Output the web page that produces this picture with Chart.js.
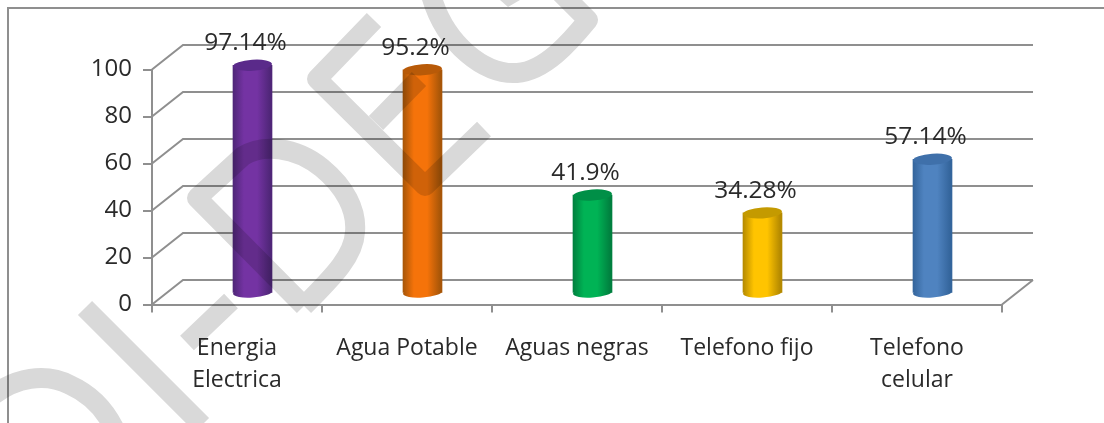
<!DOCTYPE html>
<html><head><meta charset="utf-8">
<style>html,body{margin:0;padding:0;background:#fff;overflow:hidden}#w{position:absolute;left:0;top:0;width:1104px;height:423px}</style>
<script src="https://cdn.jsdelivr.net/npm/chart.js@4"></script>
</head><body><div id="w"><canvas id="c"></canvas></div>
<script>
const categories = [["Energia","Electrica"],"Agua Potable","Aguas negras","Telefono fijo",["Telefono","celular"]];
const values = [97.14,95.2,41.9,34.28,57.14];
const yTicks = [0,20,40,60,80,100];
const edgeColors = ["#4f2678","#a85608","#00803f","#b58a00","#34659c"];
const midColors = ["#7433a3","#f5730a","#00b355","#ffc400","#4f83c0"];
const capColors = ["#5a2a8a","#b85a08","#008f47","#c49a00","#3f70aa"];
const LINE = "#8f8f8f", TEXT = "#2a2a2a", FONT = '"Open Sans", sans-serif';
const DX = 15.5, DY = -11, WX = 31, WY = -24.5;

function bodyFill(c){
  const i = c.dataIndex; if(i===undefined) return midColors[0];
  const s = c.chart.scales.x; if(!s) return midColors[i];
  const x = s.getPixelForValue(i);
  if(!isFinite(x)) return midColors[i];
  const g = c.chart.ctx.createLinearGradient(x-19.5,0,x+19.5,0);
  g.addColorStop(0,edgeColors[i]); g.addColorStop(.28,midColors[i]);
  g.addColorStop(.62,midColors[i]); g.addColorStop(.95,edgeColors[i]); g.addColorStop(1,edgeColors[i]);
  return g;
}
const cyl = {
  id:'cyl',
  beforeDraw(chart){
    const c=chart.ctx; c.save(); c.strokeStyle=LINE; c.lineWidth=2;
    c.beginPath(); c.moveTo(8,1000); c.lineTo(8,8); c.lineTo(1104,8); c.stroke(); c.restore();
  },
  beforeDatasetsDraw(chart){
    const c=chart.ctx,y=chart.scales.y,a=chart.chartArea;
    c.save(); c.strokeStyle=LINE; c.lineWidth=2; c.beginPath();
    yTicks.forEach(v=>{const p=y.getPixelForValue(v);
      c.moveTo(a.left,p); c.lineTo(a.left+WX,p+WY); c.lineTo(a.right+WX,p+WY);});
    const p0=y.getPixelForValue(0); c.moveTo(a.right,p0); c.lineTo(a.right+WX,p0+WY);
    c.stroke(); c.restore();
  },
  beforeDatasetDraw(chart,args){
    const c=chart.ctx; c.save(); c.translate(DX,DY);
    args.meta.data.forEach((b,i)=>{
      c.fillStyle=b.options.backgroundColor;
      c.beginPath(); c.ellipse(b.x,b.base,19.5,5,-4*Math.PI/180,0,Math.PI*2); c.fill();
    });
  },
  afterDatasetDraw(chart,args){
    const c=chart.ctx;
    args.meta.data.forEach((b,i)=>{
      c.fillStyle=capColors[i];
      c.beginPath(); c.ellipse(b.x,b.y,19.5,5.5,-4*Math.PI/180,0,Math.PI*2); c.fill();
    });
    c.restore();
  },
  afterDatasetsDraw(chart){
    const c=chart.ctx,m=chart.getDatasetMeta(0);
    c.save(); c.fillStyle=TEXT; c.font='24.5px '+FONT; c.textAlign='center'; c.textBaseline='middle';
    m.data.forEach((b,i)=>c.fillText(values[i]+'%',b.x+DX-7,b.y+DY-22));
    c.restore();
  },
  afterDraw(chart){
    const c=chart.ctx; c.save();
    c.globalCompositeOperation='multiply';
    c.strokeStyle='#d9d9d9'; c.fillStyle='#d9d9d9'; c.lineWidth=20; c.lineJoin='round'; c.lineCap='butt';
    c.beginPath();
    c.moveTo(85,308); c.lineTo(202,425);
    c.moveTo(-8,396); c.bezierCurveTo(15,378,45,372,70,385); c.bezierCurveTo(90,394,105,410,114,428);
    c.moveTo(231,301); c.lineTo(187,343);
    c.moveTo(304,306); c.lineTo(197,198); c.lineTo(243,156);
    c.bezierCurveTo(262,144,295,146,322,168); c.bezierCurveTo(345,187,357,210,355,232); c.bezierCurveTo(354,255,335,275,304,306);
    c.moveTo(374,20); c.lineTo(317,79); c.lineTo(425,186); c.lineTo(484,129);
    c.moveTo(376,123); c.lineTo(419,79);
    c.moveTo(431,-5); c.bezierCurveTo(445,45,485,75,517,73); c.bezierCurveTo(545,71,570,42,588,20); c.lineTo(560,-8);
    c.stroke();
    c.beginPath(); c.moveTo(500,0); c.lineTo(508,7); c.lineTo(520,0); c.closePath(); c.fill();
    c.restore();
  }
};
new Chart(document.getElementById('c'),{
  type:'bar',
  data:{labels:categories,datasets:[{data:values,backgroundColor:bodyFill,barThickness:39,borderWidth:0,clip:false}]},
  plugins:[cyl],
  options:{
    responsive:true,maintainAspectRatio:false,animation:false,
    layout:{padding:{left:0,top:69.5,right:102,bottom:0}},
    plugins:{legend:{display:false},tooltip:{enabled:false},title:{display:false}},
    scales:{
      x:{offset:true,
        border:{color:LINE,width:2},
        grid:{drawOnChartArea:false,color:LINE,lineWidth:2,tickLength:8,offset:true},
        ticks:{color:TEXT,font:{family:FONT,size:23,lineHeight:1.39},maxRotation:0,autoSkip:false,padding:20},
        afterFit(s){s.height=118.5;}
      },
      y:{min:0,max:100,
        border:{color:LINE,width:2},
        grid:{drawOnChartArea:false,color:LINE,lineWidth:2,tickLength:9},
        ticks:{stepSize:20,color:TEXT,font:{family:FONT,size:24},padding:11},
        afterFit(s){s.width=152;}
      }
    }
  }
});
</script></body></html>
